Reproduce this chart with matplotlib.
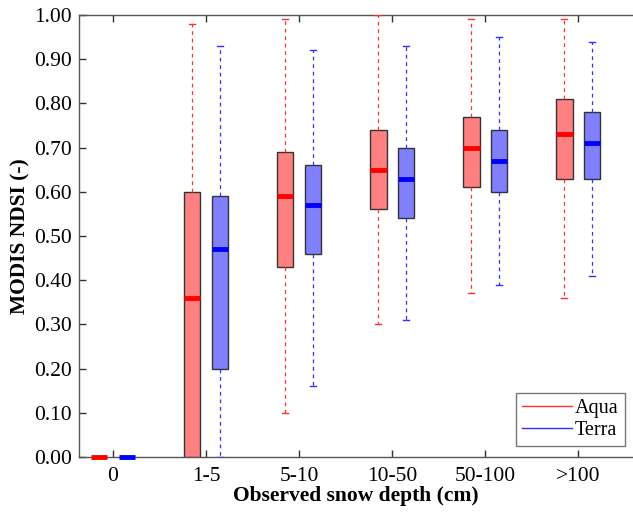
import matplotlib
matplotlib.use("Agg")
import matplotlib.pyplot as plt
from matplotlib.lines import Line2D

plt.rcParams['font.family'] = ['Liberation Serif', 'DejaVu Serif']

categories = ["0", "1-5", "5-10", "10-50", "50-100", ">100"]
# Aqua stats
aqua_low = [0.00, 0.00, 0.10, 0.30, 0.37, 0.36]
aqua_q1 = [0.00, 0.00, 0.43, 0.56, 0.61, 0.63]
aqua_med = [0.00, 0.36, 0.59, 0.65, 0.70, 0.73]
aqua_q3 = [0.00, 0.60, 0.69, 0.74, 0.77, 0.81]
aqua_high = [0.00, 0.98, 0.99, 1.00, 0.99, 0.99]
# Terra stats
terra_low = [0.00, 0.00, 0.16, 0.31, 0.39, 0.41]
terra_q1 = [0.00, 0.20, 0.46, 0.54, 0.60, 0.63]
terra_med = [0.00, 0.47, 0.57, 0.63, 0.67, 0.71]
terra_q3 = [0.00, 0.59, 0.66, 0.70, 0.74, 0.78]
terra_high = [0.00, 0.93, 0.92, 0.93, 0.95, 0.94]

fig = plt.figure(figsize=(6.33, 5.12), dpi=100)
ax = fig.add_axes([79/633, 1-457/512, 1-79/633, (457-15)/512])

def stats(low, q1, med, q3, high):
    return [dict(whislo=a, q1=b, med=c, q3=d, whishi=e, fliers=[])
            for a, b, c, d, e in zip(low, q1, med, q3, high)]

off = 0.15
w = 0.18
pos = list(range(len(categories)))
for st, color, face, sgn in [
    (stats(aqua_low, aqua_q1, aqua_med, aqua_q3, aqua_high), '#ff3030', '#ff8080', -1),
    (stats(terra_low, terra_q1, terra_med, terra_q3, terra_high), '#3030ff', '#8080ff', 1)]:
    mcol = 'red' if sgn < 0 else 'blue'
    ax.bxp(st, positions=[p + sgn*off for p in pos], widths=w, patch_artist=True,
           showfliers=False,
           boxprops=dict(facecolor=face, edgecolor='#333333', linewidth=1.0),
           medianprops=dict(color=mcol, linewidth=3.5, solid_capstyle='butt', clip_on=False),
           whiskerprops=dict(color=color, linestyle=(0, (3, 3)), linewidth=0.9),
           capprops=dict(color=color, linewidth=1.0),
           capwidths=0.07, manage_ticks=False, zorder=3)

ax.set_xlim(-0.366, 5.59)
ax.set_ylim(0, 1.0)
ax.set_xticks(pos)
ax.set_xticklabels(categories)
ax.set_yticks([i/10 for i in range(11)])
ax.set_yticklabels([f"{i/10:.2f}" for i in range(11)])
ax.tick_params(direction='in', length=5, width=1, labelsize=15.5, color='#333333',
               top=True, right=False)
ax.tick_params(axis='y', pad=5)
ax.tick_params(axis='x', pad=7)
for s in ['left', 'bottom', 'top']:
    ax.spines[s].set_color('#555555')
    ax.spines[s].set_linewidth(1.0)
ax.spines['right'].set_visible(False)

ax.set_ylabel('MODIS NDSI (-)', fontsize=15.5, fontweight='bold', labelpad=3)
ax.set_xlabel('Observed snow depth (cm)', fontsize=15.5, fontweight='bold', labelpad=0)

handles = [Line2D([], [], color='#ff3030', lw=1), Line2D([], [], color='#3030ff', lw=1)]
leg = ax.legend(handles, ['Aqua', 'Terra'], loc='lower right', bbox_to_anchor=(0.985, 0.025),
                fontsize=14.5, frameon=True, fancybox=False, edgecolor='#555555',
                handlelength=2.5, handletextpad=0.15, borderpad=0.3, labelspacing=0.15,
                borderaxespad=0)
leg.get_frame().set_linewidth(1.0)

fig.savefig('out.png', dpi=100)
